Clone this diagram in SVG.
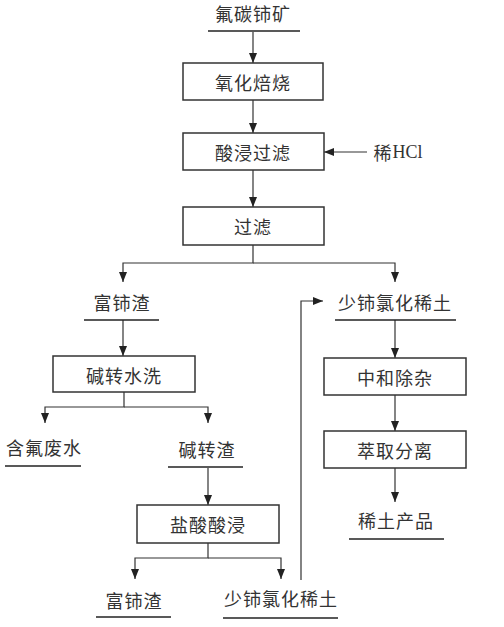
<svg xmlns="http://www.w3.org/2000/svg" width="504" height="627" viewBox="0 0 504 627">
<defs>
<marker id="ah" viewBox="0 0 10 10" refX="10" refY="5" markerWidth="10" markerHeight="10" markerUnits="userSpaceOnUse" orient="auto">
<path d="M0,1 L10,5 L0,9 Z" fill="#222"/>
</marker>
<style>
text{font-family:"Noto Sans CJK SC","Noto Sans",sans-serif;font-size:18px;fill:#333;text-anchor:middle;dominant-baseline:central;letter-spacing:1px}
.box{fill:#fff;stroke:#333;stroke-width:1.5}
.ul{stroke:#222;stroke-width:1.5}
.c{fill:none;stroke:#333;stroke-width:1.2}
.ser{font-family:"Liberation Serif",serif;letter-spacing:0}
</style>
</defs>
<rect width="504" height="627" fill="#fff"/>
<g id="connectors">
<line class="c" x1="253" y1="32" x2="253" y2="63" marker-end="url(#ah)"/>
<line class="c" x1="253" y1="100" x2="253" y2="133" marker-end="url(#ah)"/>
<line class="c" x1="253" y1="170" x2="253" y2="207" marker-end="url(#ah)"/>
<line class="c" x1="367" y1="152" x2="324" y2="152" marker-end="url(#ah)"/>
<polyline class="c" points="253,245 253,263 123,263 123,282" marker-end="url(#ah)"/>
<polyline class="c" points="253,263 395,263 395,282" marker-end="url(#ah)"/>
<line class="c" x1="123" y1="320" x2="123" y2="356" marker-end="url(#ah)"/>
<polyline class="c" points="124,392 124,407 45,407 45,423" marker-end="url(#ah)"/>
<polyline class="c" points="124,407 208,407 208,423" marker-end="url(#ah)"/>
<line class="c" x1="208" y1="468" x2="208" y2="505" marker-end="url(#ah)"/>
<polyline class="c" points="208,543 208,558 135,558 135,579" marker-end="url(#ah)"/>
<polyline class="c" points="208,558 281,558 281,579" marker-end="url(#ah)"/>
<polyline class="c" points="301,580 301,301 323,301" marker-end="url(#ah)"/>
<line class="c" x1="395" y1="320" x2="395" y2="358" marker-end="url(#ah)"/>
<line class="c" x1="395" y1="395" x2="395" y2="431" marker-end="url(#ah)"/>
<line class="c" x1="395" y1="468" x2="395" y2="502" marker-end="url(#ah)"/>
</g>
<g id="n-ore"><text x="253" y="13">氟碳铈矿</text><line class="ul" x1="208" y1="31" x2="300" y2="31"/></g>
<g id="n-roast"><rect class="box" x="183" y="63" width="140" height="37"/><text x="253" y="82">氧化焙烧</text></g>
<g id="n-leach"><rect class="box" x="183" y="133" width="141" height="37"/><text x="253" y="152">酸浸过滤</text></g>
<g id="n-hcl"><text x="398" y="152">稀<tspan class="ser">HCl</tspan></text></g>
<g id="n-filter"><rect class="box" x="183" y="207" width="141" height="38"/><text x="253" y="226">过滤</text></g>
<g id="n-ce1"><text x="122" y="302">富铈渣</text><line class="ul" x1="84" y1="320" x2="159" y2="320"/></g>
<g id="n-re1"><text x="395" y="302">少铈氯化稀土</text><line class="ul" x1="335" y1="320" x2="456" y2="320"/></g>
<g id="n-wash"><rect class="box" x="53" y="356" width="142" height="36"/><text x="124" y="375">碱转水洗</text></g>
<g id="n-water"><text x="44" y="447">含氟废水</text><line class="ul" x1="5" y1="466" x2="81" y2="466"/></g>
<g id="n-slag"><text x="207" y="449">碱转渣</text><line class="ul" x1="168" y1="467" x2="243" y2="467"/></g>
<g id="n-hclleach"><rect class="box" x="137" y="505" width="142" height="38"/><text x="208" y="524">盐酸酸浸</text></g>
<g id="n-ce2"><text x="134" y="600">富铈渣</text><line class="ul" x1="96" y1="617" x2="171" y2="617"/></g>
<g id="n-re2"><text x="281" y="598">少铈氯化稀土</text><line class="ul" x1="223" y1="618" x2="338" y2="618"/></g>
<g id="n-neut"><rect class="box" x="324" y="358" width="142" height="37"/><text x="395" y="377">中和除杂</text></g>
<g id="n-extract"><rect class="box" x="324" y="431" width="142" height="37"/><text x="395" y="450">萃取分离</text></g>
<g id="n-product"><text x="396" y="520">稀土产品</text><line class="ul" x1="349" y1="539" x2="444" y2="539"/></g>
</svg>
